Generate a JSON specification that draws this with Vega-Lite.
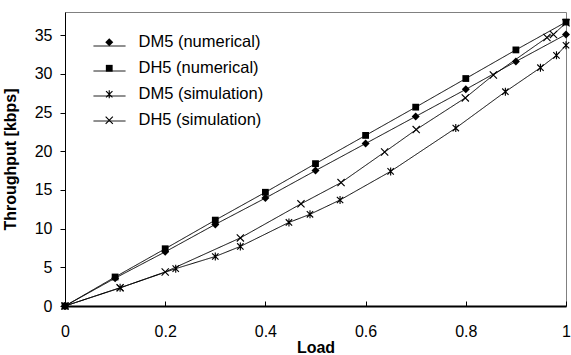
{
  "$schema": "https://vega.github.io/schema/vega-lite/v6.json",
  "width": 501,
  "height": 294,
  "autosize": "none",
  "padding": {"left": 65, "top": 12, "right": 5, "bottom": 49},
  "background": "white",
  "config": {
    "font": "Liberation Sans",
    "view": {"stroke": "#808080", "strokeWidth": 1},
    "axis": {"grid": false, "domainColor": "black", "tickColor": "black", "labelColor": "black", "titleColor": "black", "labelFontSize": 16, "titleFontSize": 16, "titleFontWeight": "bold", "labelFont": "Liberation Sans", "titleFont": "Liberation Sans"}
  },
  "data": {"values": [
    {"series": "DM5 (numerical)", "load": 0, "throughput": 0},
    {"series": "DM5 (numerical)", "load": 0.1, "throughput": 3.6},
    {"series": "DM5 (numerical)", "load": 0.2, "throughput": 7.0},
    {"series": "DM5 (numerical)", "load": 0.3, "throughput": 10.55},
    {"series": "DM5 (numerical)", "load": 0.4, "throughput": 13.95},
    {"series": "DM5 (numerical)", "load": 0.5, "throughput": 17.5},
    {"series": "DM5 (numerical)", "load": 0.6, "throughput": 21.0},
    {"series": "DM5 (numerical)", "load": 0.7, "throughput": 24.5},
    {"series": "DM5 (numerical)", "load": 0.8, "throughput": 28.0},
    {"series": "DM5 (numerical)", "load": 0.9, "throughput": 31.6},
    {"series": "DM5 (numerical)", "load": 1.0, "throughput": 35.1},
    {"series": "DH5 (numerical)", "load": 0, "throughput": 0},
    {"series": "DH5 (numerical)", "load": 0.1, "throughput": 3.75},
    {"series": "DH5 (numerical)", "load": 0.2, "throughput": 7.4},
    {"series": "DH5 (numerical)", "load": 0.3, "throughput": 11.1},
    {"series": "DH5 (numerical)", "load": 0.4, "throughput": 14.7},
    {"series": "DH5 (numerical)", "load": 0.5, "throughput": 18.4},
    {"series": "DH5 (numerical)", "load": 0.6, "throughput": 22.05},
    {"series": "DH5 (numerical)", "load": 0.7, "throughput": 25.7},
    {"series": "DH5 (numerical)", "load": 0.8, "throughput": 29.4},
    {"series": "DH5 (numerical)", "load": 0.9, "throughput": 33.1},
    {"series": "DH5 (numerical)", "load": 1.0, "throughput": 36.7},
    {"series": "DM5 (simulation)", "load": 0, "throughput": 0},
    {"series": "DM5 (simulation)", "load": 0.11, "throughput": 2.35},
    {"series": "DM5 (simulation)", "load": 0.221, "throughput": 4.83},
    {"series": "DM5 (simulation)", "load": 0.3, "throughput": 6.4},
    {"series": "DM5 (simulation)", "load": 0.35, "throughput": 7.7},
    {"series": "DM5 (simulation)", "load": 0.447, "throughput": 10.8},
    {"series": "DM5 (simulation)", "load": 0.489, "throughput": 11.85},
    {"series": "DM5 (simulation)", "load": 0.549, "throughput": 13.7},
    {"series": "DM5 (simulation)", "load": 0.65, "throughput": 17.4},
    {"series": "DM5 (simulation)", "load": 0.78, "throughput": 23.0},
    {"series": "DM5 (simulation)", "load": 0.879, "throughput": 27.7},
    {"series": "DM5 (simulation)", "load": 0.949, "throughput": 30.8},
    {"series": "DM5 (simulation)", "load": 0.981, "throughput": 32.4},
    {"series": "DM5 (simulation)", "load": 1.0, "throughput": 33.7},
    {"series": "DH5 (simulation)", "load": 0, "throughput": 0},
    {"series": "DH5 (simulation)", "load": 0.11, "throughput": 2.35},
    {"series": "DH5 (simulation)", "load": 0.2, "throughput": 4.4},
    {"series": "DH5 (simulation)", "load": 0.35, "throughput": 8.8},
    {"series": "DH5 (simulation)", "load": 0.471, "throughput": 13.2},
    {"series": "DH5 (simulation)", "load": 0.551, "throughput": 15.95},
    {"series": "DH5 (simulation)", "load": 0.638, "throughput": 19.9},
    {"series": "DH5 (simulation)", "load": 0.701, "throughput": 22.8},
    {"series": "DH5 (simulation)", "load": 0.799, "throughput": 26.9},
    {"series": "DH5 (simulation)", "load": 0.855, "throughput": 29.85},
    {"series": "DH5 (simulation)", "load": 0.962, "throughput": 34.7},
    {"series": "DH5 (simulation)", "load": 0.975, "throughput": 35.1},
    {"series": "DH5 (simulation)", "load": 1.0, "throughput": 36.6}
  ]},
  "encoding": {
    "x": {"field": "load", "type": "quantitative", "scale": {"domain": [0, 1], "nice": false, "zero": false},
      "axis": {"title": "Load", "values": [0, 0.2, 0.4, 0.6, 0.8, 1], "format": "~g", "tickSize": -5, "domainWidth": 2, "labelPadding": 22, "titlePadding": 0, "labelFlush": false}},
    "y": {"field": "throughput", "type": "quantitative", "scale": {"domain": [0, 38], "nice": false},
      "axis": {"title": "Throughput [kbps]", "values": [0, 5, 10, 15, 20, 25, 30, 35], "tickSize": 5, "labelPadding": 8, "titlePadding": 16}}
  },
  "layer": [
    {
      "mark": {"type": "line", "color": "black", "strokeWidth": 1},
      "encoding": {
        "strokeDash": {"field": "series", "type": "nominal",
          "scale": {
            "domain": ["DH5 (simulation)", "DM5 (simulation)", "DH5 (numerical)", "DM5 (numerical)"],
            "range": [[1, 0], [1, 0], [1, 0], [1, 0]]
          },
          "legend": {
            "title": null,
            "orient": "none",
            "legendX": 28,
            "legendY": 17.5,
            "padding": 0,
            "symbolType": "stroke",
            "symbolSize": 1024,
            "symbolStrokeWidth": 1,
            "symbolStrokeColor": "black",
            "labelFontSize": 16.5,
            "labelFont": "Liberation Sans",
            "labelExpr": "''",
            "labelOpacity": 0,
            "labelOffset": 5,
            "rowPadding": 0,
            "labelLimit": 300
          }
        }
      }
    },
    {
      "mark": {"type": "point", "filled": true, "fill": "black", "strokeWidth": 0, "opacity": 1, "size": 64},
      "encoding": {
        "shape": {"field": "series", "type": "nominal",
          "scale": {
            "domain": ["DM5 (numerical)", "DH5 (numerical)", "DM5 (simulation)", "DH5 (simulation)"],
            "range": [
              "M0,-1L1,0L0,1L-1,0Z",
              "M-0.85,-0.85H0.85V0.85H-0.85Z",
              "M-0.7,-0.9L0.9,0.7L0.7,0.9L-0.9,-0.7ZM0.9,-0.7L-0.7,0.9L-0.9,0.7L0.7,-0.9ZM-0.14,-1L0.14,-1L0.14,1L-0.14,1Z",
              "M-0.8,-1L1,0.8L0.8,1L-1,-0.8ZM1,-0.8L-0.8,1L-1,0.8L0.8,-1Z"
            ]
          },
          "legend": {
            "title": null,
            "orient": "none",
            "legendX": 36,
            "legendY": 22,
            "padding": 0,
            "symbolSize": 64,
            "symbolStrokeWidth": 0,
            "symbolFillColor": "black",
            "labelFontSize": 16.5,
            "labelFont": "Liberation Sans",
            "labelColor": "black",
            "labelOffset": 21,
            "rowPadding": 9,
            "labelLimit": 300
          }
        }
      }
    }
  ]
}
